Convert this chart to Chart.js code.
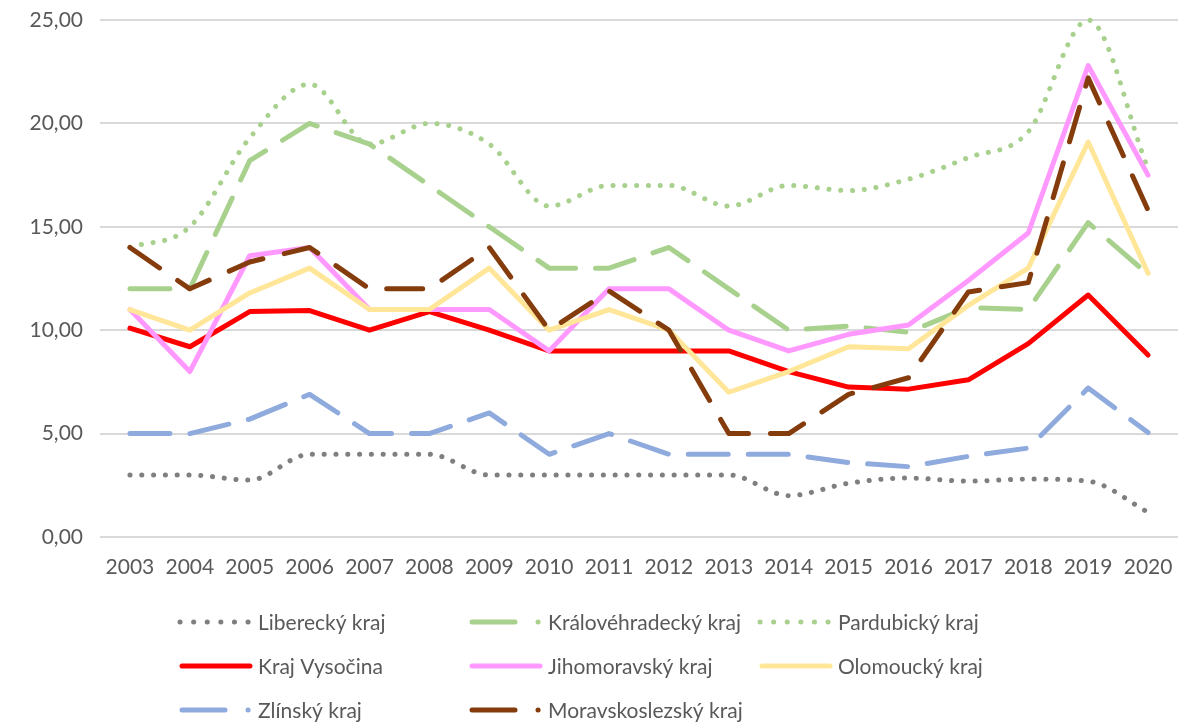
<!DOCTYPE html>
<html>
<head>
<meta charset="utf-8">
<script src="https://cdn.jsdelivr.net/npm/chart.js@4.4.0/dist/chart.umd.min.js"></script>
<style>
  html, body { margin: 0; padding: 0; background: #fff; }
  #wrap { width: 1193px; height: 725px; }
</style>
</head>
<body>
<div id="wrap"><canvas id="krajeChart"></canvas></div>
<script>
// roky na ose X
const roky = ['2003','2004','2005','2006','2007','2008','2009','2010','2011','2012',
              '2013','2014','2015','2016','2017','2018','2019','2020'];

// hodnoty jednotlivych kraju
const liberecky      = [3, 3, 2.75, 4, 4, 4, 3, 3, 3, 3, 3, 2, 2.6, 2.85, 2.7, 2.8, 2.7, 1.2];
const kralovehradecky = [12, 12, 18.2, 20, 19, 17, 15, 13, 13, 14, 12, 10, 10.2, 9.9, 11.1, 11, 15.2, 12.7];
const pardubicky     = [14, 15, 19.3, 21.9, 19, 20, 19, 16, 17, 17, 16, 17, 16.75, 17.3, 18.35, 19.6, 25, 17.8];
const vysocina       = [10.1, 9.2, 10.9, 10.95, 10, 10.9, 10, 9, 9, 9, 9, 8, 7.25, 7.15, 7.6, 9.35, 11.7, 8.8];
const jihomoravsky   = [11, 8, 13.6, 14, 11, 11, 11, 9, 12, 12, 10, 9, 9.8, 10.25, 12.4, 14.7, 22.8, 17.5];
const olomoucky      = [11, 10, 11.8, 13, 11, 11, 13, 10, 11, 10, 7, 8, 9.2, 9.1, 11.2, 13, 19.1, 12.75];
const zlinsky        = [5, 5, 5.7, 6.9, 5, 5, 6, 4, 5, 4, 4, 4, 3.6, 3.4, 3.9, 4.3, 7.2, 5.05];
const moravskoslezsky = [14, 12, 13.3, 14, 12, 12, 14, 10, 11.9, 10, 5, 5, 6.9, 7.7, 11.85, 12.3, 22.2, 15.8];

// osa Y
const osaMin = 0, osaMax = 25, osaKrok = 5;

const tecky = [0.1, 11.7];
const carky = [40, 20];

const serie = [
  { label: 'Liberecký kraj', data: liberecky, color: '#7f7f7f', dash: tecky, hladka: true, styl: 'tecky' },
  { label: 'Královéhradecký kraj', data: kralovehradecky, color: '#a9d18e', dash: carky, hladka: false, styl: 'carka' },
  { label: 'Pardubický kraj', data: pardubicky, color: '#a9d18e', dash: tecky, hladka: true, styl: 'tecky' },
  { label: 'Kraj Vysočina', data: vysocina, color: '#ff0000', dash: [], hladka: false, styl: 'plna' },
  { label: 'Jihomoravský kraj', data: jihomoravsky, color: '#ff99ff', dash: [], hladka: false, styl: 'plna' },
  { label: 'Olomoucký kraj', data: olomoucky, color: '#ffe699', dash: [], hladka: false, styl: 'plna' },
  { label: 'Zlínský kraj', data: zlinsky, color: '#8faadc', dash: carky, hladka: false, styl: 'carka' },
  { label: 'Moravskoslezský kraj', data: moravskoslezsky, color: '#843c0c', dash: [36, 22], hladka: false, styl: 'carka' }
];

const pismo = 'Lato, "Liberation Sans", sans-serif';
const sedaText = '#595959';

// vlastni legenda ve trech sloupcich
const legendaPozice = { sloupce: [180, 470, 760], radky: [622, 666, 710], delka: 72, text: 78 };

const legendaPlugin = {
  id: 'legendaKraje',
  afterDraw(chart) {
    const ctx = chart.ctx;
    ctx.save();
    ctx.font = '21px ' + pismo;
    ctx.textBaseline = 'middle';
    ctx.fillStyle = sedaText;
    serie.forEach((s, i) => {
      const x = legendaPozice.sloupce[i % 3];
      const y = legendaPozice.radky[Math.floor(i / 3)];
      const L = legendaPozice.delka;
      ctx.strokeStyle = s.color;
      ctx.lineWidth = 5;
      ctx.lineCap = 'round';
      if (s.styl === 'tecky') {
        ctx.setLineDash([0.1, 13.5]);
        ctx.beginPath(); ctx.moveTo(x, y); ctx.lineTo(x + L - 2, y); ctx.stroke();
      } else if (s.styl === 'carka') {
        ctx.setLineDash([]);
        ctx.beginPath(); ctx.moveTo(x + 2, y); ctx.lineTo(x + 45, y); ctx.stroke();
        ctx.beginPath(); ctx.moveTo(x + 68, y); ctx.lineTo(x + 68.1, y); ctx.stroke();
      } else {
        ctx.setLineDash([]);
        ctx.beginPath(); ctx.moveTo(x + 2, y); ctx.lineTo(x + L - 2, y); ctx.stroke();
      }
      ctx.setLineDash([]);
      ctx.fillText(s.label, x + legendaPozice.text, y + 1);
    });
    ctx.restore();
  }
};

const ctx = document.getElementById('krajeChart').getContext('2d');

const krajeChart = new Chart(ctx, {
  type: 'line',
  data: {
    labels: roky,
    datasets: serie.map((s, i) => ({
      label: s.label,
      data: s.data,
      borderColor: s.color,
      backgroundColor: s.color,
      borderWidth: 5,
      borderDash: s.dash,
      borderCapStyle: 'round',
      borderJoinStyle: 'round',
      tension: s.hladka ? 0.4 : 0,
      cubicInterpolationMode: s.hladka ? 'monotone' : 'default',
      pointRadius: 0,
      pointHoverRadius: 0,
      fill: false,
      clip: false,
      order: serie.length - i // pozdejsi serie kreslit navrch jako v Excelu
    }))
  },
  options: {
    responsive: true,
    maintainAspectRatio: false,
    animation: false,
    layout: { padding: { top: 20, right: 15, bottom: 140, left: 0 } },
    plugins: {
      legend: { display: false },
      tooltip: { enabled: false }
    },
    scales: {
      x: {
        offset: true,
        grid: { display: false, drawTicks: false },
        border: { display: false },
        ticks: { color: sedaText, font: { family: pismo, size: 21 }, padding: 18, maxRotation: 0, autoSkip: false },
        afterFit: s => { s.height = 48; }
      },
      y: {
        min: osaMin,
        max: osaMax,
        grid: { color: '#d9d9d9', lineWidth: 2, drawTicks: false },
        border: { display: false },
        ticks: {
          stepSize: osaKrok,
          color: sedaText,
          font: { family: pismo, size: 21, lineHeight: 0.6 },
          padding: 17,
          callback: v => v.toFixed(2).replace('.', ',')
        },
        afterFit: s => { s.width = 100; s.paddingTop = 0; s.paddingBottom = 0; }
      }
    }
  },
  plugins: [legendaPlugin]
});
</script>
</body>
</html>
